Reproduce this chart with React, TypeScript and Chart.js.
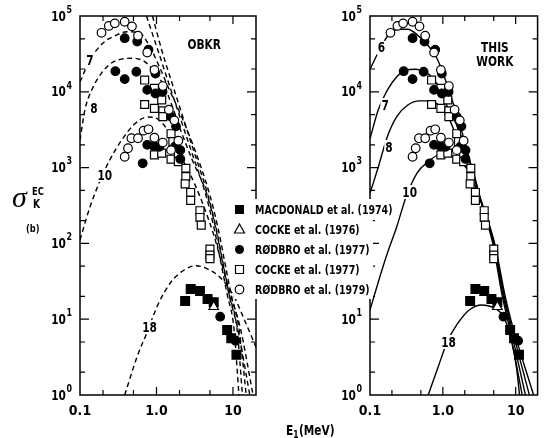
import React, { useEffect, useRef } from 'react';
import { Chart, registerables } from 'chart.js';
Chart.register(...registerables);

type Pt = [number, number];

// ---------------- data ----------------
const xTickValues = [0.1, 1, 10];
const xTickLabels = ['0.1', '1.0', '10'];
const yTickValues = [1, 10, 100, 1000, 10000, 100000];
const yTickExponents = ['0', '1', '2', '3', '4', '5'];
const xTickMarks = [0.1, 0.2, 0.5, 1, 2, 5, 10, 20];
const yTickMarks = [1, 2, 5, 10, 20, 50, 100, 200, 500, 1000, 2000, 5000, 10000, 20000, 50000, 100000];

const legendLabels = [
  'MACDONALD et al. (1974)',
  'COCKE et al. (1976)',
  'RØDBRO et al. (1977)',
  'COCKE et al. (1977)',
  'RØDBRO et al. (1979)',
];

const macdonald1974: Pt[] = [
  [2.37, 17.4], [2.8, 25], [3.7, 23.5], [4.65, 18.5], [5.6, 16.7],
  [8.4, 7.2], [9.5, 5.6], [11.1, 3.4],
];
const cocke1976: Pt[] = [[5.6, 14.6]];
const rodbro1977: Pt[] = [
  [0.384, 5.1e4], [0.56, 4.6e4], [0.786, 3.6e4], [0.97, 1.74e4],
  [0.29, 1.87e4], [0.384, 1.47e4], [0.545, 1.84e4], [0.757, 1.06e4], [0.97, 9.5e3],
  [1.2, 1.0e4], [1.55, 4.7e3], [1.8, 3.5e3], [2.05, 1.7e3],
  [0.66, 1.14e3], [0.757, 2.0e3], [0.92, 1.93e3], [1.09, 1.88e3], [1.75, 1.9e3], [2.05, 1.3e3],
  [6.8, 10.8], [10.8, 5.2],
];
const cocke1977: Pt[] = [
  [0.7, 1.43e4], [0.94, 1.11e4], [1.17, 7.8e3], [0.7, 6.8e3], [0.94, 6.05e3], [1.21, 5.6e3],
  [1.21, 4.7e3], [1.55, 2.8e3], [1.64, 2.2e3], [0.94, 1.47e3], [1.17, 1.55e3], [1.55, 1.29e3],
  [1.93, 1.55e3], [1.93, 1.2e3], [2.42, 980], [2.42, 760], [2.37, 610], [2.8, 470], [2.8, 370],
  [3.7, 270], [3.7, 220], [3.85, 174], [5.0, 84], [5.0, 70], [5.0, 63],
];
const rodbro1979: Pt[] = [
  [0.191, 6.0e4], [0.238, 7.4e4], [0.285, 8.0e4], [0.384, 8.4e4], [0.478, 7.3e4], [0.573, 5.5e4],
  [0.757, 3.3e4], [0.94, 1.94e4], [1.21, 1.19e4], [1.45, 5.8e3], [1.71, 4.2e3], [1.93, 2.26e3],
  [0.384, 1.39e3], [0.424, 1.8e3], [0.47, 2.44e3], [0.573, 2.44e3], [0.677, 3.07e3], [0.786, 3.2e3],
  [0.94, 2.48e3], [1.21, 2.14e3], [1.55, 1.7e3],
];

// OBKR (dashed) curves
const obkrA: Pt[] = [
  [0.74, 1e5], [1.04, 3.56e4], [1.4, 1.43e4], [1.89, 5.75e3], [2.82, 1.71e3], [4.42, 435],
  [5.67, 158], [6.92, 57], [8.43, 20.9], [10.3, 7.6], [11.97, 1],
];
const obkrB: Pt[] = [
  [0.886, 1e5], [1.17, 3.56e4], [1.55, 1.43e4], [2.07, 5.75e3], [3.04, 1.71e3], [4.7, 435],
  [6.03, 158], [7.36, 57], [8.97, 20.9], [11.27, 7.6], [13.3, 1],
];
const obkr7: Pt[] = [
  [0.1, 1.35e4], [0.134, 2.6e4], [0.2, 4.4e4], [0.3, 5.6e4], [0.41, 6.2e4], [0.6, 6.0e4],
  [0.81, 4.0e4], [1.1, 2.1e4], [1.47, 1.07e4], [1.95, 5.75e3], [3.18, 1.71e3], [4.98, 435],
  [6.39, 158], [7.8, 57], [9.5, 20.9], [11.96, 7.6], [14.9, 1],
];
const obkr8: Pt[] = [
  [0.1, 2.3e3], [0.116, 5.8e3], [0.142, 1.05e4], [0.19, 1.75e4], [0.258, 2.4e4], [0.35, 2.7e4],
  [0.49, 2.77e4], [0.7, 2.5e4], [0.94, 1.84e4], [1.27, 1.17e4], [1.62, 6.3e3], [2.1, 3.0e3],
  [2.9, 1.3e3], [4.6, 435], [5.95, 158], [7.3, 57], [8.9, 20.9], [11.5, 7.6], [16.6, 1],
];
const obkr10: Pt[] = [
  [0.1, 111], [0.135, 302], [0.182, 665], [0.245, 1.26e3], [0.351, 2.31e3], [0.518, 3.76e3],
  [0.764, 4.65e3], [1.03, 4.38e3], [1.57, 2.61e3], [2.31, 1.15e3], [3.12, 626], [4.3, 280],
  [5.6, 130], [7.2, 52], [9.3, 20.9], [12.5, 7.6], [18.3, 1],
];
const obkr18: Pt[] = [
  [0.384, 1], [0.57, 3.4], [0.73, 6.2], [1.04, 15.4], [1.55, 31], [2.3, 44.6], [3.3, 50.8],
  [4.65, 46], [6.9, 35], [10.3, 20], [14, 10], [20, 4.3],
];

// THIS WORK (solid) curves
const work6: Pt[] = [
  [0.1, 1.98e4], [0.135, 3.56e4], [0.176, 5.5e4], [0.245, 6.7e4], [0.33, 6.7e4], [0.45, 5.6e4],
  [0.61, 4.2e4], [0.81, 2.9e4], [0.99, 1.84e4], [1.21, 1.05e4], [1.6, 4.6e3], [2.0, 2.2e3],
  [2.45, 1.05e3], [3.1, 450], [4.85, 100], [6.5, 21], [7.9, 9], [12.3, 1],
];
const work7: Pt[] = [
  [0.1, 2.4e3], [0.13, 5.8e3], [0.173, 1.05e4], [0.233, 1.58e4], [0.31, 1.94e4], [0.42, 1.98e4],
  [0.57, 1.84e4], [0.73, 1.5e4], [0.94, 1.05e4], [1.16, 6.3e3], [1.6, 3.4e3], [2.05, 1.8e3],
  [2.5, 1.0e3], [3.15, 440], [4.95, 100], [6.7, 21], [8.2, 9], [13.6, 1],
];
const work8: Pt[] = [
  [0.1, 457], [0.13, 1.02e3], [0.173, 2.56e3], [0.233, 4.7e3], [0.33, 6.7e3], [0.48, 7.6e3],
  [0.66, 7.6e3], [0.94, 6.3e3], [1.21, 4.46e3], [1.55, 2.56e3], [2.0, 1.6e3], [2.55, 950],
  [3.2, 430], [5.05, 100], [6.9, 21], [8.5, 9], [15.4, 1],
];
const work10: Pt[] = [
  [0.1, 13.2], [0.13, 31], [0.173, 74], [0.233, 166], [0.31, 400], [0.44, 840], [0.63, 1.2e3],
  [0.9, 1.47e3], [1.21, 1.47e3], [1.64, 1.26e3], [2.2, 930], [2.8, 560], [3.2, 400],
  [5.15, 100], [7.1, 21], [8.8, 9], [17.6, 1],
];
const work18: Pt[] = [
  [0.63, 1], [0.85, 2.25], [1.15, 5.05], [1.55, 8.4], [2.3, 13.2], [3.4, 15.4], [4.65, 14.6],
  [6.0, 12.6], [7.3, 9.3], [8.8, 5.05], [10.3, 2.25], [11.3, 1],
];

const obkrCurveLabels = ['7', '8', '10', '18'];
const workCurveLabels = ['6', '7', '8', '10', '18'];

// ---------------- styling / layout ----------------
const W = 545;
const H = 438;
const FONT = '"Liberation Sans Narrow", "DejaVu Sans Condensed", "Liberation Sans", sans-serif';
const SX = 0.84; // horizontal condensing of bold label text

// label anchors in data coordinates
const obkrLabelAt: Pt[] = [[0.135, 2.63e4], [0.152, 6.1e3], [0.211, 799], [0.811, 7.9]];
const workLabelAt: Pt[] = [[0.143, 3.8e4], [0.161, 6.7e3], [0.182, 1.87e3], [0.351, 476], [1.2, 5.0]];

const isDecade = (v: number) => Math.abs(Math.log10(v) - Math.round(Math.log10(v))) < 1e-6;

function txt(ctx: CanvasRenderingContext2D, t: string, x: number, y: number, align: CanvasTextAlign) {
  ctx.save();
  ctx.translate(x, y);
  ctx.scale(SX, 1);
  ctx.textAlign = align;
  ctx.fillText(t, 0, 0);
  ctx.restore();
}
const tw = (ctx: CanvasRenderingContext2D, t: string) => ctx.measureText(t).width * SX;

function drawFrame(chart: any) {
  const { ctx, chartArea: a, scales } = chart;
  const x = scales.x;
  const y = scales.y;
  ctx.save();
  ctx.strokeStyle = '#000';
  ctx.lineWidth = 1.5;
  ctx.strokeRect(a.left, a.top, a.right - a.left, a.bottom - a.top);
  ctx.lineWidth = 1.2;
  ctx.beginPath();
  for (const v of xTickMarks) {
    const px = x.getPixelForValue(v);
    if (px < a.left + 1 || px > a.right - 1) continue;
    const L = isDecade(v) ? 8 : 5;
    ctx.moveTo(px, a.bottom);
    ctx.lineTo(px, a.bottom - L);
    ctx.moveTo(px, a.top);
    ctx.lineTo(px, a.top + L);
  }
  for (const v of yTickMarks) {
    const py = y.getPixelForValue(v);
    if (py < a.top + 1 || py > a.bottom - 1) continue;
    const L = isDecade(v) ? 9 : 5;
    ctx.moveTo(a.left, py);
    ctx.lineTo(a.left + L, py);
    ctx.moveTo(a.right, py);
    ctx.lineTo(a.right - L, py);
  }
  ctx.stroke();
  // y tick labels (10 with superscript exponent)
  ctx.fillStyle = '#000';
  ctx.textBaseline = 'middle';
  yTickValues.forEach((v, i) => {
    const py = y.getPixelForValue(v);
    ctx.font = `bold 10.5px ${FONT}`;
    const ew = tw(ctx, yTickExponents[i]);
    txt(ctx, yTickExponents[i], a.left - 8, py - 6, 'right');
    ctx.font = `bold 14px ${FONT}`;
    txt(ctx, '10', a.left - 8.5 - ew, py + 1, 'right');
  });
  ctx.restore();
}

function drawCurveLabels(chart: any, labels: string[], at: Pt[]) {
  const { ctx, scales } = chart;
  ctx.save();
  ctx.font = `bold 14px ${FONT}`;
  ctx.textBaseline = 'middle';
  labels.forEach((t, i) => {
    const px = scales.x.getPixelForValue(at[i][0]);
    const py = scales.y.getPixelForValue(at[i][1]);
    const w = tw(ctx, t);
    ctx.fillStyle = '#fff';
    ctx.fillRect(px - w / 2 - 1, py - 7, w + 2, 14);
    ctx.fillStyle = '#000';
    txt(ctx, t, px, py + 1, 'center');
  });
  ctx.restore();
}

function drawMarker(ctx: CanvasRenderingContext2D, kind: number, cx: number, cy: number) {
  ctx.save();
  ctx.lineWidth = 1.2;
  ctx.strokeStyle = '#000';
  ctx.fillStyle = '#000';
  ctx.beginPath();
  if (kind === 0) {
    ctx.rect(cx - 4.5, cy - 4.5, 9, 9);
    ctx.fill();
  } else if (kind === 1) {
    ctx.moveTo(cx, cy - 5.5);
    ctx.lineTo(cx + 5, cy + 3.5);
    ctx.lineTo(cx - 5, cy + 3.5);
    ctx.closePath();
    ctx.fillStyle = '#fff';
    ctx.fill();
    ctx.stroke();
  } else if (kind === 2) {
    ctx.arc(cx, cy, 4.5, 0, Math.PI * 2);
    ctx.fill();
  } else if (kind === 3) {
    ctx.rect(cx - 4, cy - 4, 8, 8);
    ctx.fillStyle = '#fff';
    ctx.fill();
    ctx.stroke();
  } else {
    ctx.arc(cx, cy, 4.3, 0, Math.PI * 2);
    ctx.fillStyle = '#fff';
    ctx.fill();
    ctx.stroke();
  }
  ctx.restore();
}

function drawLegend(ctx: CanvasRenderingContext2D) {
  ctx.save();
  ctx.fillStyle = '#fff';
  ctx.fillRect(234, 199, 139, 100);
  legendLabels.forEach((t, i) => {
    const cy = 209.5 + 20 * i;
    drawMarker(ctx, i, 239.5, cy);
    ctx.fillStyle = '#000';
    ctx.font = `bold 12.5px ${FONT}`;
    ctx.textBaseline = 'middle';
    txt(ctx, t, 255, cy + 1, 'left');
  });
  ctx.restore();
}

function drawAxisTexts(ctx: CanvasRenderingContext2D) {
  ctx.save();
  ctx.fillStyle = '#000';
  ctx.textBaseline = 'alphabetic';
  ctx.textAlign = 'left';
  ctx.font = 'italic 30px "Liberation Serif", "DejaVu Serif", serif';
  ctx.fillText('σ', 12, 207);
  ctx.font = `bold 11px ${FONT}`;
  txt(ctx, 'EC', 32, 195, 'left');
  ctx.font = `bold 12px ${FONT}`;
  txt(ctx, 'K', 33, 208, 'left');
  ctx.font = `bold 11px ${FONT}`;
  txt(ctx, '(b)', 26, 232, 'left');
  // x title E1(MeV)
  ctx.font = `bold 14px ${FONT}`;
  const wE = tw(ctx, 'E');
  const wR = tw(ctx, '(MeV)');
  ctx.font = `bold 10px ${FONT}`;
  const w1 = tw(ctx, '1');
  const x0 = 310 - (wE + w1 + wR) / 2;
  ctx.font = `bold 14px ${FONT}`;
  txt(ctx, 'E', x0, 435, 'left');
  txt(ctx, '(MeV)', x0 + wE + w1 + 0.5, 435, 'left');
  ctx.font = `bold 10px ${FONT}`;
  txt(ctx, '1', x0 + wE, 437.5, 'left');
  ctx.restore();
}

function drawPanelTitle(chart: any, lines: string[], ex: number, ys: number[]) {
  const { ctx, scales } = chart;
  ctx.save();
  ctx.fillStyle = '#000';
  ctx.font = `bold 14px ${FONT}`;
  ctx.textBaseline = 'middle';
  lines.forEach((t, i) => {
    txt(ctx, t, scales.x.getPixelForValue(ex), scales.y.getPixelForValue(ys[i]), 'center');
  });
  ctx.restore();
}

const toXY = (d: Pt[]) => d.map(([x, y]) => ({ x, y }));

function lineDs(d: Pt[], dashed: boolean) {
  return {
    type: 'line',
    data: toXY(d),
    borderColor: '#000',
    borderWidth: 1.4,
    borderDash: dashed ? [5, 3.5] : [],
    pointRadius: 0,
    fill: false,
    cubicInterpolationMode: 'monotone',
    order: 10,
  };
}

function markDs(d: Pt[], style: string, r: number, filled: boolean, order: number) {
  return {
    type: 'scatter',
    data: toXY(d),
    pointStyle: style,
    pointRadius: r,
    pointBackgroundColor: filled ? '#000' : '#fff',
    pointBorderColor: '#000',
    pointBorderWidth: 1.2,
    showLine: false,
    order,
  };
}

function makeConfig(isLeft: boolean) {
  const curves = isLeft
    ? [obkrA, obkrB, obkr7, obkr8, obkr10, obkr18]
    : [work6, work7, work8, work10, work18];
  const datasets: any[] = [
    ...curves.map((c) => lineDs(c, isLeft)),
    markDs(cocke1977, 'rect', 5.6, false, 6),
    markDs(rodbro1977, 'circle', 4.3, true, 5),
    markDs(rodbro1979, 'circle', 4.3, false, 4),
    markDs(macdonald1974, 'rect', 6.2, true, 3),
    markDs(cocke1976, 'triangle', 5.5, false, 2),
  ];
  const plugin = {
    id: isLeft ? 'leftDeco' : 'rightDeco',
    beforeDatasetsDraw(chart: any) {
      drawFrame(chart);
      if (!isLeft) drawLegend(chart.ctx);
    },
    afterDatasetsDraw(chart: any) {
      if (isLeft) {
        drawCurveLabels(chart, obkrCurveLabels, obkrLabelAt);
        drawPanelTitle(chart, ['OBKR'], 4.2, [4.1e4]);
        drawAxisTexts(chart.ctx);
      } else {
        drawCurveLabels(chart, workCurveLabels, workLabelAt);
        drawPanelTitle(chart, ['THIS', 'WORK'], 5.18, [3.7e4, 2.45e4]);
      }
    },
  };
  return {
    type: 'scatter',
    data: { datasets },
    options: {
      animation: false,
      responsive: false,
      maintainAspectRatio: false,
      events: [],
      layout: { padding: isLeft ? { top: 16, left: 0, right: 289, bottom: 0 } : { top: 16, left: 290, right: 1, bottom: 0 } },
      plugins: { legend: { display: false }, tooltip: { enabled: false } },
      scales: {
        x: {
          type: 'logarithmic',
          min: 0.1,
          max: 20,
          grid: { display: false, drawTicks: false },
          border: { display: false },
          afterBuildTicks: (s: any) => {
            s.ticks = xTickValues.map((value) => ({ value }));
          },
          afterFit: (s: any) => {
            s.height = 43;
          },
          ticks: {
            autoSkip: false,
            maxRotation: 0,
            padding: 8,
            color: '#000',
            font: { family: FONT, size: 14, weight: 'bold' },
            callback: (_v: any, i: number) => xTickLabels[i],
          },
        },
        y: {
          type: 'logarithmic',
          min: 1,
          max: 1e5,
          grid: { display: false, drawTicks: false },
          border: { display: false },
          afterBuildTicks: (s: any) => {
            s.ticks = yTickValues.map((value) => ({ value }));
          },
          afterFit: (s: any) => {
            s.width = 80;
          },
          ticks: { display: false },
        },
      },
    },
    plugins: [plugin],
  };
}

export default function App() {
  const leftRef = useRef<HTMLCanvasElement>(null);
  const rightRef = useRef<HTMLCanvasElement>(null);
  useEffect(() => {
    const l = new Chart(leftRef.current as HTMLCanvasElement, makeConfig(true) as any);
    const r = new Chart(rightRef.current as HTMLCanvasElement, makeConfig(false) as any);
    return () => {
      l.destroy();
      r.destroy();
    };
  }, []);
  const cs: React.CSSProperties = { position: 'absolute', left: 0, top: 0, width: W, height: H };
  return (
    <div style={{ position: 'fixed', left: 0, top: 0, width: W, height: H, background: '#fff' }}>
      <canvas ref={leftRef} width={W} height={H} style={cs} />
      <canvas ref={rightRef} width={W} height={H} style={cs} />
    </div>
  );
}
